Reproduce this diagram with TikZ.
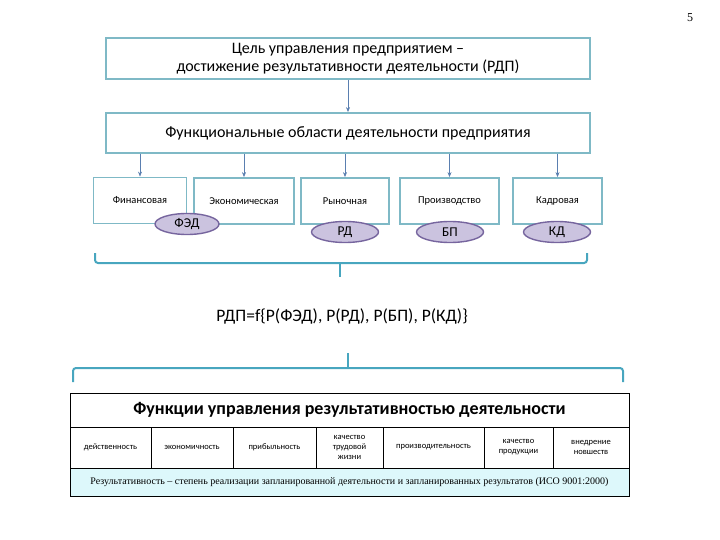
\documentclass[tikz,border=0pt]{standalone}
\usepackage{fontspec}
\setmainfont{Carlito}
\newfontfamily\serifru{Liberation Serif}
\usetikzlibrary{shapes.geometric}
\usetikzlibrary{arrows.meta}
\definecolor{boxline}{HTML}{7FB9C6}
\definecolor{bracec}{HTML}{48A6BF}
\definecolor{arrc}{HTML}{5A7FB0}
\definecolor{ellfill}{HTML}{CBC3DF}
\definecolor{elldraw}{HTML}{76659E}
\definecolor{cyanrow}{HTML}{DDF8FB}
\tikzset{
	mainbox/.style={draw=boxline, line width=1.8pt, fill=white, align=center, inner sep=0pt, minimum width=484pt},
	areabox/.style={draw=boxline, line width=1.8pt, fill=white, minimum height=46pt, inner sep=0pt, font=\fontsize{10.5}{12}\selectfont},
	effect/.style={ellipse, draw=elldraw, line width=1.4pt, fill=ellfill, minimum width=67pt, minimum height=21pt, inner sep=0pt, font=\fontsize{13.5}{14}\selectfont},
	arr/.style={draw=arrc, line width=0.6pt, -{Stealth[length=5pt, width=4pt]}},
	brace/.style={draw=bracec, line width=2pt, rounded corners=3pt},
	cell/.style={draw=black, line width=0.6pt, align=center, inner sep=0pt, minimum height=41pt, font=\fontsize{8.5}{10}\selectfont}
}

\begin{document}
\begin{tikzpicture}[x=1pt, y=-1pt]
	\useasboundingbox (0, 0) rectangle (720, 540);
	\node[font=\serifru\fontsize{12}{12}\selectfont] (pnum) at (690, 18) {5};
	
	\node[mainbox, minimum height=41pt, font=\fontsize{16}{18}\selectfont] (goal) at (348, 58.5)
		{Цель управления предприятием –\\достижение результативности деятельности (РДП)};
	\node[mainbox, minimum height=40pt, font=\fontsize{16}{18}\selectfont] (func) at (348, 133)
		{Функциональные области деятельности предприятия};
	\draw[arr] (goal) -- (func);
	
	\node[areabox, minimum width=93pt] (fin) at (140, 200.5) {Финансовая};
	\node[areabox, minimum width=100pt] (econ) at (244, 201) {Экономическая};
	\node[areabox, minimum width=88pt] (market) at (345, 201) {Рыночная};
	\node[areabox, minimum width=99pt] (prod) at (449.5, 201) {Производство};
	\node[areabox, minimum width=89pt] (staff) at (557.5, 201) {Кадровая};
	\foreach \a in {fin, econ, market, prod, staff}
		\draw[arr] (func.south -| \a.north) -- (\a.north);
	
	\node[effect, minimum width=64pt] (fed) at (187, 224) {ФЭД};
	\node[effect] (rd) at (345, 232) {РД};
	\node[effect] (bp) at (450, 232) {БП};
	\node[effect] (kd) at (557, 232) {КД};
	
	% upper brace
	\coordinate (b1l) at (95, 253);
	\coordinate (b1r) at (587, 253);
	\coordinate (b1m) at (340, 263);
	\coordinate (b1t) at (340, 277);
	\draw[brace] (b1l) -- (95, 263) -- (587, 263) -- (b1r);
	\draw[draw=bracec, line width=2pt] (b1m) -- (b1t);
	
	\node[font=\fontsize{17.5}{19}\selectfont] (rdp) at (342, 316) {РДП=f\{Р(ФЭД), Р(РД), Р(БП), Р(КД)\}};
	
	% lower brace
	\coordinate (b2l) at (73, 382);
	\coordinate (b2r) at (623, 382);
	\coordinate (b2m) at (348, 368);
	\coordinate (b2t) at (348, 353);
	\draw[brace] (b2l) -- (73, 368) -- (623, 368) -- (b2r);
	\draw[draw=bracec, line width=2pt] (b2m) -- (b2t);
	
	\node[cell, minimum width=559pt, minimum height=34pt, font=\bfseries\fontsize{18}{20}\selectfont] (title) at (349.5, 410)
		{Функции управления результативностью деятельности};
	\foreach \n/\x/\w/\txt in {r1/110.5/81/действенность, r2/192/82/экономичность, r3/274.5/83/прибыльность,
		r4/349.5/67/{качество\\трудовой\\жизни}, r5/433.5/101/производительность,
		r6/518.5/69/{качество\\продукции}, r7/591/76/{внедрение\\новшеств}}
		\node[cell, minimum width=\w pt] (\n) at (\x, 447.5) {\txt};
	\node[cell, fill=cyanrow, minimum width=559pt, minimum height=28pt, font=\serifru\fontsize{10}{11}\selectfont] (def) at (349.5, 482)
		{Результативность – степень реализации запланированной деятельности и запланированных результатов (ИСО 9001:2000)};
\end{tikzpicture}
\end{document}
